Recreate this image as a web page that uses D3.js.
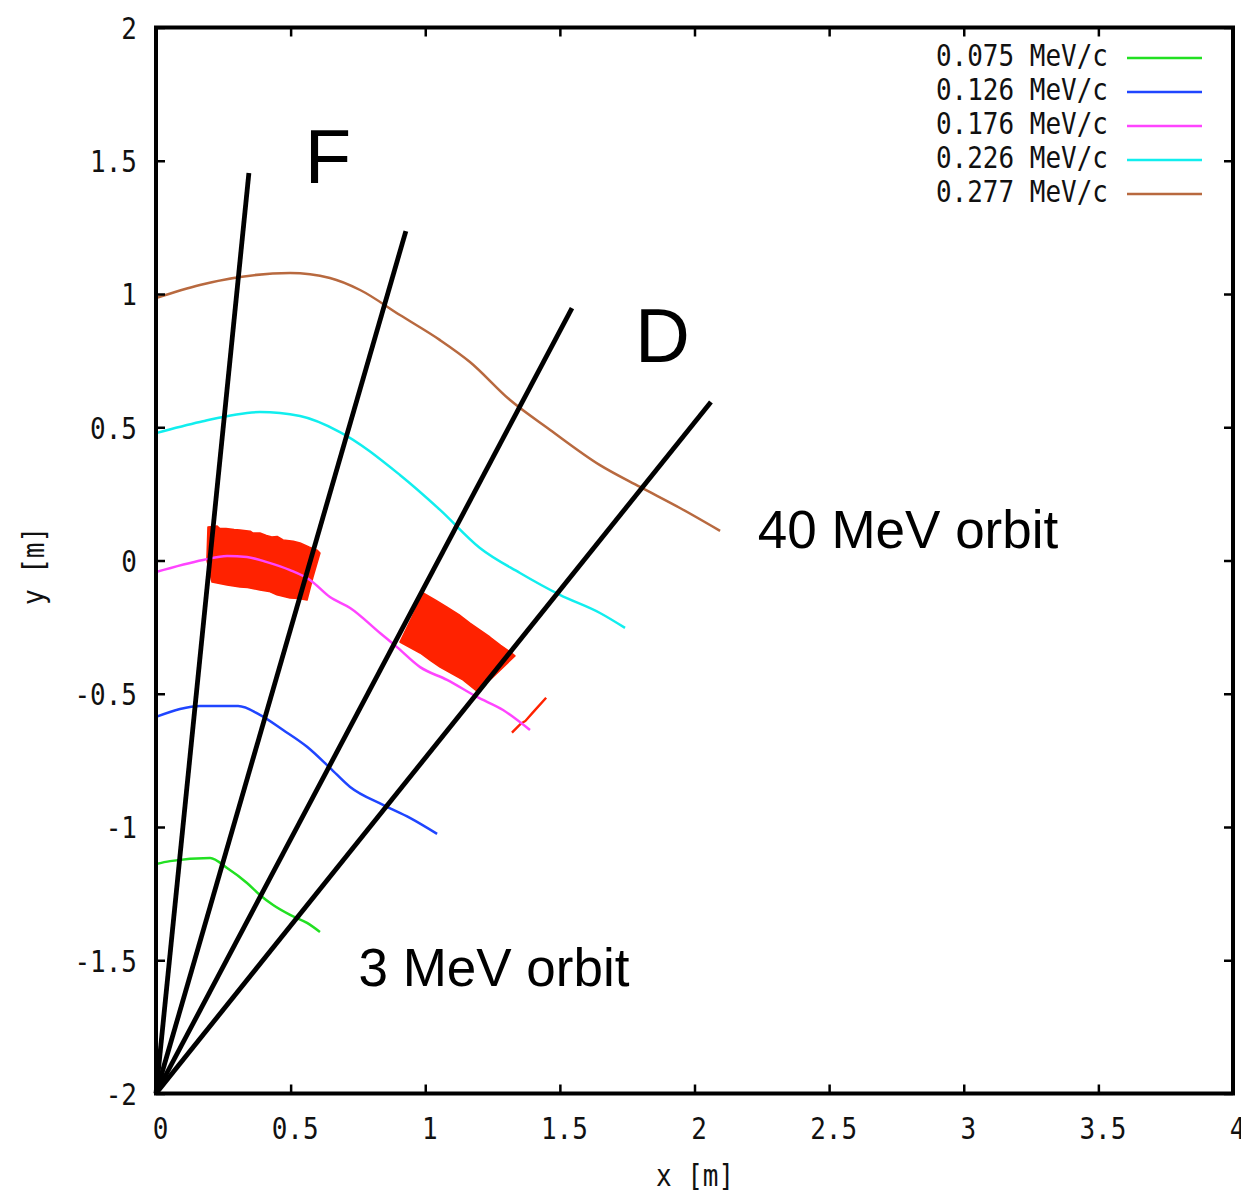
<!DOCTYPE html>
<html>
<head>
<meta charset="utf-8">
<script src="https://cdn.jsdelivr.net/npm/d3@7"></script>
<style>
  body { margin: 0; background: #fff; }
  svg { display: block; }
</style>
</head>
<body>
<svg id="chart" width="1241" height="1195"></svg>
<script>
// Axis ticks (metres)
const xTicks = [0, 0.5, 1, 1.5, 2, 2.5, 3, 3.5, 4];
const yTicks = [-2, -1.5, -1, -0.5, 0, 0.5, 1, 1.5, 2];

// Legend entries and their colours
const momentumLabels = ["0.075 MeV/c", "0.126 MeV/c", "0.176 MeV/c", "0.226 MeV/c", "0.277 MeV/c"];
const momentumColors = ["#22e022", "#1f45ff", "#ff44ff", "#11eeee", "#b8693f"];

// Closed orbits, [x, y] in metres
const orbit075 = [[0, -1.139], [0.052, -1.128], [0.201, -1.116], [0.264, -1.154], [0.338, -1.210],
  [0.386, -1.255], [0.435, -1.293], [0.498, -1.330], [0.561, -1.360], [0.609, -1.394]];
const orbit126 = [[0, -0.587], [0.089, -0.557], [0.163, -0.546], [0.305, -0.546], [0.386, -0.579],
  [0.472, -0.636], [0.561, -0.699], [0.646, -0.778], [0.721, -0.850], [0.843, -0.917],
  [0.943, -0.966], [1.044, -1.026]];
const orbit176 = [[0, -0.043], [0.175, 0.002], [0.264, 0.017], [0.338, 0.013], [0.412, -0.006],
  [0.498, -0.036], [0.572, -0.073], [0.646, -0.137], [0.721, -0.178], [0.832, -0.272],
  [0.895, -0.325], [0.981, -0.400], [1.081, -0.448], [1.192, -0.512], [1.289, -0.561], [1.389, -0.636]];
const orbit226 = [[0, 0.478], [0.163, 0.520], [0.386, 0.557], [0.535, 0.542], [0.683, 0.482],
  [0.906, 0.321], [1.055, 0.190], [1.203, 0.047], [1.352, -0.047], [1.500, -0.129],
  [1.649, -0.197], [1.742, -0.253]];
const orbit277 = [[0, 0.985], [0.163, 1.034], [0.312, 1.064], [0.498, 1.079], [0.646, 1.060],
  [0.758, 1.015], [0.906, 0.921], [1.055, 0.827], [1.166, 0.745], [1.315, 0.602],
  [1.464, 0.490], [1.649, 0.358], [1.798, 0.276], [1.946, 0.197], [2.095, 0.111]];
const orbits = [orbit075, orbit126, orbit176, orbit226, orbit277];

// Magnet edges: rays from the machine centre (0, -2) to their outer ends
const rayOrigin = [0, -2];
const rayEnds = [[0.345, 1.454], [0.928, 1.236], [1.545, 0.947], [2.061, 0.595]];

// Beam footprint outlines inside the F and D magnets, plus a short stray track
const beamF = [[0.193, 0.126], [0.227, 0.129], [0.236, 0.121], [0.260, 0.120], [0.290, 0.116],
  [0.312, 0.114], [0.350, 0.110], [0.360, 0.103], [0.386, 0.103], [0.410, 0.094],
  [0.430, 0.088], [0.450, 0.090], [0.472, 0.077], [0.510, 0.072], [0.535, 0.066],
  [0.570, 0.050], [0.598, 0.039], [0.609, 0.028], [0.583, -0.062], [0.561, -0.148],
  [0.530, -0.143], [0.498, -0.141], [0.449, -0.129], [0.420, -0.116], [0.386, -0.111],
  [0.340, -0.101], [0.312, -0.099], [0.264, -0.092], [0.208, -0.081], [0.189, 0.002]];
const beamD = [[0.992, -0.122], [1.040, -0.150], [1.081, -0.175], [1.125, -0.203], [1.166, -0.235],
  [1.205, -0.262], [1.240, -0.287], [1.280, -0.318], [1.315, -0.343], [1.333, -0.358],
  [1.252, -0.437], [1.192, -0.490], [1.140, -0.448], [1.100, -0.425], [1.055, -0.400],
  [1.020, -0.376], [0.981, -0.347], [0.906, -0.306], [0.951, -0.212]];
const strayTrack = [[1.322, -0.646], [1.355, -0.612], [1.372, -0.602], [1.400, -0.570], [1.449, -0.515]];

// Text annotations
const annotations = [
  { text: "F", x: 0.552, y: 1.417, size: 76 },
  { text: "D", x: 1.779, y: 0.745, size: 76 },
  { text: "40 MeV orbit", x: 2.235, y: 0.047, size: 53 },
  { text: "3 MeV orbit", x: 0.752, y: -1.597, size: 53 }
];

(function draw() {
  const svg = d3.select("#chart");
  const plotLeft = 156, plotRight = 1233, plotTop = 27.5, plotBottom = 1093.5;
  const x = d3.scaleLinear().domain([0, 4]).range([plotLeft, plotRight]);
  const y = d3.scaleLinear().domain([-2, 2]).range([plotBottom, plotTop]);

  const monoFont = "'DejaVu Sans Mono', 'Liberation Mono', monospace";
  const stretch = 1.15;

  // Beam footprints (under the orbits and magnet edges)
  const area = d3.line().x(d => x(d[0])).y(d => y(d[1])).curve(d3.curveLinearClosed);
  [beamF, beamD].forEach(b => {
    svg.append("path").attr("d", area(b)).attr("fill", "#ff2200")
      .attr("stroke", "#ff2200").attr("stroke-width", 1.5).attr("stroke-linejoin", "round");
  });
  svg.append("path").attr("d", d3.line().x(d => x(d[0])).y(d => y(d[1]))(strayTrack))
    .attr("fill", "none").attr("stroke", "#ff2200").attr("stroke-width", 2.4);

  // Orbits
  const orbitLine = d3.line().x(d => x(d[0])).y(d => y(d[1])).curve(d3.curveMonotoneX);
  orbits.forEach((o, i) => {
    svg.append("path").attr("d", orbitLine(o)).attr("fill", "none")
      .attr("stroke", momentumColors[i]).attr("stroke-width", 2.5);
  });

  // Magnet edge rays
  svg.selectAll("line.ray").data(rayEnds).join("line").attr("class", "ray")
    .attr("x1", x(rayOrigin[0])).attr("y1", y(rayOrigin[1]))
    .attr("x2", d => x(d[0])).attr("y2", d => y(d[1]))
    .attr("stroke", "#000").attr("stroke-width", 4.8);

  // Axes: ticks point inwards on all four sides
  const fmt = d => String(d);
  function styleAxis(g) {
    g.select(".domain").remove();
    g.selectAll(".tick line").attr("stroke", "#000").attr("stroke-width", 2.5);
    g.selectAll(".tick text").attr("fill", "#111").attr("font-family", monoFont).attr("font-size", 26);
  }
  const gx = svg.append("g").attr("transform", `translate(0,${plotBottom})`)
    .call(d3.axisBottom(x).tickValues(xTicks).tickFormat(fmt).tickSize(-9).tickPadding(0));
  styleAxis(gx);
  gx.selectAll(".tick text").attr("y", 45.5 / stretch).attr("dy", 0).attr("dx", 4)
    .attr("transform", `scale(1,${stretch})`);

  const gxTop = svg.append("g").attr("transform", `translate(0,${plotTop})`)
    .call(d3.axisTop(x).tickValues(xTicks).tickFormat("").tickSize(-9));
  styleAxis(gxTop);

  const gy = svg.append("g").attr("transform", `translate(${plotLeft},0)`)
    .call(d3.axisLeft(y).tickValues(yTicks).tickFormat(fmt).tickSize(-9).tickPadding(19));
  styleAxis(gy);
  gy.selectAll(".tick text").attr("dy", "0.36em").attr("transform", `scale(1,${stretch})`);

  const gyRight = svg.append("g").attr("transform", `translate(${plotRight},0)`)
    .call(d3.axisRight(y).tickValues(yTicks).tickFormat("").tickSize(-9));
  styleAxis(gyRight);

  // Plot frame
  svg.append("rect").attr("x", plotLeft).attr("y", plotTop)
    .attr("width", plotRight - plotLeft).attr("height", plotBottom - plotTop)
    .attr("fill", "none").attr("stroke", "#000").attr("stroke-width", 4);

  // Axis titles
  svg.append("text").attr("transform", `translate(695,1186) scale(1,${stretch})`)
    .attr("text-anchor", "middle").attr("font-family", monoFont).attr("font-size", 26)
    .attr("fill", "#111").text("x [m]");
  svg.append("text").attr("transform", `translate(44,566) rotate(-90) scale(1,${stretch})`)
    .attr("text-anchor", "middle").attr("font-family", monoFont).attr("font-size", 26)
    .attr("fill", "#111").text("y [m]");

  // Legend
  const legend = svg.append("g");
  momentumLabels.forEach((label, i) => {
    const cy = 58 + i * 34;
    legend.append("text").attr("transform", `translate(1108,${cy + 8}) scale(1,${stretch})`)
      .attr("text-anchor", "end").attr("font-family", monoFont).attr("font-size", 26)
      .attr("fill", "#111").text(label);
    legend.append("line").attr("x1", 1127).attr("x2", 1202).attr("y1", cy).attr("y2", cy)
      .attr("stroke", momentumColors[i]).attr("stroke-width", 2.4);
  });

  // Annotations
  annotations.forEach(a => {
    svg.append("text").attr("x", x(a.x)).attr("y", y(a.y))
      .attr("font-family", "'Liberation Sans', Arial, sans-serif").attr("font-size", a.size)
      .attr("fill", "#000").text(a.text);
  });
})();
</script>
</body>
</html>
